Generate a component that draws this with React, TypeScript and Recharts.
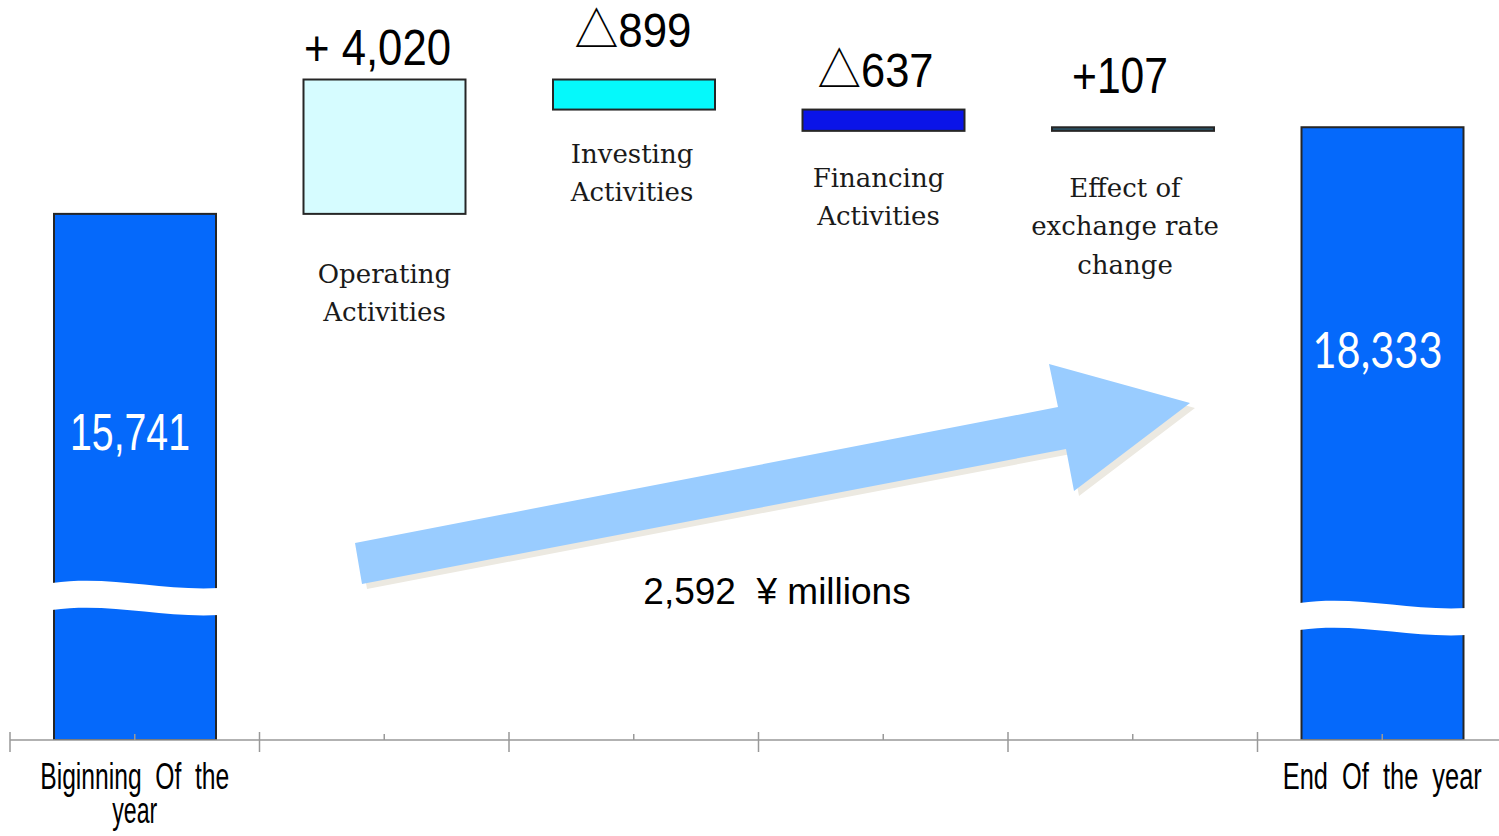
import React from "react";
import { ComposedChart, Bar, XAxis, YAxis, Customized } from "recharts";

// category names, split the way they are printed
const labelLines = [
  ["Biginning Of the", "year"],
  ["Operating", "Activities"],
  ["Investing", "Activities"],
  ["Financing", "Activities"],
  ["Effect of", "exchange rate", "change"],
  ["End Of the year"],
];
const categories = labelLines.map((l) => l.join(" "));
const changes = [15741, 4020, -899, -637, 107, 18333];
const valueLabels = ["15,741", "+ 4,020", "△899", "△637", "+107", "18,333"];
const netChangeLabel = "2,592\u00a0\u00a0¥ millions";

const colors = ["#0569FB", "#D6FCFF", "#05F9FB", "#0A14E8", "#2B5468", "#0569FB"];

// waterfall: transparent base + visible step
const data = (() => {
  let run = 0;
  return categories.map((name, i) => {
    const v = changes[i];
    if (i === 0 || i === categories.length - 1) {
      if (i === 0) run = v;
      return { name, base: 0, step: v, i };
    }
    const base = v >= 0 ? run : run + v;
    run += v;
    return { name, base, step: Math.abs(v), i };
  });
})();

const W = 1499;
const H = 836;
const CHART_W = 1510;
const ML = 10;
const MR = 3;
const AXIS_H = 96;
const Y_MAX = 22140;
const STEP = (CHART_W - ML - MR) / categories.length;
const LAST = categories.length - 1;

const NARROW = "'Liberation Sans Narrow', 'Liberation Sans', 'Noto Sans CJK JP', sans-serif";

// label placement relative to each bar (dy from bar top)
const valueLayout = [
  { dx: -5, dy: 236, w: 120, size: 52, fill: "#fff", font: NARROW },
  { dx: -7, dy: -15, w: 147, size: 50, fill: "#000", font: NARROW },
  { dx: -1, dy: -33, w: 117, size: 48, fill: "#000", font: NARROW },
  { dx: -8, dy: -23, w: 116, size: 48, fill: "#000", font: NARROW },
  { dx: -13, dy: -34, w: 96, size: 50, fill: "#000", font: NARROW },
  { dx: -5, dy: 241, w: 130, size: 50, fill: "#fff", font: "Lato, 'Open Sans', sans-serif" },
];
// serif names below the floating bars (dy from bar bottom)
const nameLayout: ({ dx: number; dy: number } | null)[] = [
  null,
  { dx: 0, dy: 69 },
  { dx: -2, dy: 53 },
  { dx: -5, dy: 56 },
  { dx: -8, dy: 66 },
  null,
];
// axis break bands on the two total bars (offset up from bar bottom)
const breakOffset = [157, 0, 0, 0, 0, 137];
const axisLabelW = [[189, 45], [], [], [], [], [199]];

const StepShape = (props: any) => {
  const { x, y, width, height } = props;
  const i = props.payload?.i ?? props.index;
  const bot = y + height;
  const vl = valueLayout[i];
  const nl = nameLayout[i];
  let wave = null;
  if (breakOffset[i]) {
    const top = bot - breakOffset[i];
    const th = 27;
    const x0 = x - 2;
    const x1 = x + width + 3;
    const c1 = x + width * 0.35;
    const c2 = x + width * 0.65;
    const d =
      `M${x0},${top} C${c1},${top - 8} ${c2},${top + 8} ${x1},${top + 5} ` +
      `L${x1},${top + 5 + th} C${c2},${top + 8 + th} ${c1},${top - 8 + th} ${x0},${top + th} Z`;
    wave = <path d={d} fill="#fff" />;
  }
  const cx = x + width / 2 + vl.dx;
  return (
    <g>
      <rect x={x} y={y} width={width} height={height} fill={colors[i]} stroke="#262626" strokeWidth={2} />
      {wave}
      <text
        x={cx - vl.w / 2}
        y={y + vl.dy}
        fontSize={vl.size}
        fontFamily={vl.font}
        fill={vl.fill}
        textLength={vl.w}
        lengthAdjust="spacingAndGlyphs"
      >
        {valueLabels[i]}
      </text>
      {nl &&
        labelLines[i].map((t, k) => (
          <text
            key={k}
            x={x + width / 2 + nl.dx}
            y={bot + nl.dy + k * 38.5}
            textAnchor="middle"
            fontSize={26}
            fontFamily="'DejaVu Serif', serif"
            fill="#1a1a1a"
          >
            {t}
          </text>
        ))}
    </g>
  );
};

const AxisTick = (props: any) => {
  const { x, y, index } = props;
  const lines = index === 0 || index === LAST ? labelLines[index] : [];
  return (
    <g>
      <line x1={x} x2={x} y1={y - 6} y2={y} stroke="#999" strokeWidth={1.5} />
      <line x1={x - STEP / 2} x2={x - STEP / 2} y1={y - 8} y2={y + 12} stroke="#999" strokeWidth={1.5} />
      {index === LAST && (
        <line x1={x + STEP / 2} x2={x + STEP / 2} y1={y - 8} y2={y + 12} stroke="#999" strokeWidth={1.5} />
      )}
      {lines.map((t, k) => {
        const w = axisLabelW[index][k];
        return (
          <text
            key={k}
            x={x - w / 2}
            y={y + 49 + k * 34}
            fontSize={36}
            fontFamily="'Liberation Sans Narrow', 'Liberation Sans', sans-serif"
            wordSpacing={10}
            fill="#000"
            textLength={w}
            lengthAdjust="spacingAndGlyphs"
          >
            {t}
          </text>
        );
      })}
    </g>
  );
};

const arrowPts: [number, number][] = [
  [355, 543],
  [1058, 407],
  [1049, 364],
  [1190, 403],
  [1074, 491],
  [1066, 449],
  [362, 584],
];

const NetArrow = () => {
  const pts = arrowPts.map((p) => p.join(",")).join(" ");
  const shadow = arrowPts.map(([a, b]) => `${a + 5},${b + 5}`).join(" ");
  return (
    <g>
      <polygon points={shadow} fill="#ECE9E1" />
      <polygon points={pts} fill="#99CCFF" />
      <text x={777} y={604} textAnchor="middle" fontSize={37} fontFamily="'Liberation Sans', Arial, sans-serif" fill="#000">
        {netChangeLabel}
      </text>
    </g>
  );
};

export default function App() {
  return (
    <div style={{ position: "absolute", left: 0, top: 0, width: W, height: H, overflow: "hidden", background: "#fff" }}>
      <ComposedChart width={CHART_W} height={H} data={data} margin={{ top: 0, right: MR, left: ML, bottom: 0 }}>
        <XAxis
          dataKey="name"
          interval={0}
          height={AXIS_H}
          tickSize={0}
          tickMargin={0}
          tickLine={false}
          axisLine={{ stroke: "#999", strokeWidth: 1.5 }}
          tick={<AxisTick />}
        />
        <YAxis hide domain={[0, Y_MAX]} allowDataOverflow />
        <Customized component={NetArrow} />
        <Bar dataKey="base" stackId="w" fill="transparent" barSize={162} isAnimationActive={false} />
        <Bar dataKey="step" stackId="w" barSize={162} shape={StepShape} isAnimationActive={false} />
      </ComposedChart>
    </div>
  );
}
